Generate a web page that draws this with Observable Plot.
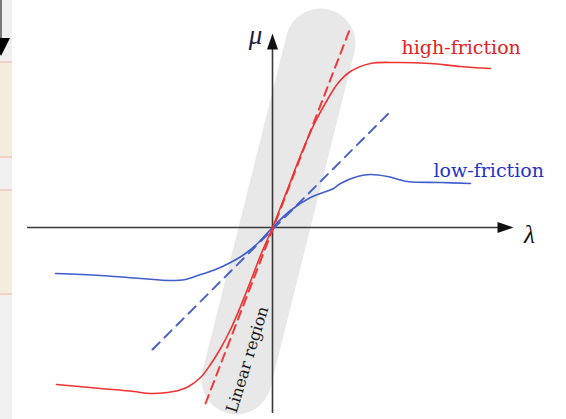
<!DOCTYPE html>
<html>
<head>
<meta charset="utf-8">
<script src="https://cdn.jsdelivr.net/npm/d3@7"></script>
<script src="https://cdn.jsdelivr.net/npm/@observablehq/plot@0.6"></script>
<style>
  html, body { margin: 0; padding: 0; background: #ffffff; }
  #wrap { position: relative; width: 566px; height: 419px; overflow: hidden; }
  #chart { position: absolute; left: 0; top: 0; }
  .strip { position: absolute; left: 0; top: 0; width: 12px; height: 419px; background: #f0f0f0; }
  .beige { position: absolute; left: 0; width: 12px; background: #f3eddc; border-top: 2px solid #f3cfc5; border-bottom: 2px solid #f3cfc5; }
  .vline { position: absolute; left: 0; top: 0; width: 2px; height: 38px; background: #7a7a7a; }
  .tri { position: absolute; left: -8px; top: 38px; width: 18px; height: 18px; background: #000; clip-path: polygon(0 0, 100% 0, 50% 100%); }
</style>
</head>
<body>
<div id="wrap">
  <div id="chart"></div>
  <div class="strip"></div>
  <div class="beige" style="top:61px;height:93px;"></div>
  <div class="beige" style="top:189px;height:102px;"></div>
  <div class="vline"></div>
  <div class="tri"></div>
</div>
<script>
// slip ratio (lambda) and friction coefficient (mu), arbitrary units
const highLambda = [-2.16, -1.72, -1.39, -1.22, -1.05, -0.94, -0.84, -0.72, -0.62, -0.52, -0.42, -0.32, -0.22, -0.12, 0, 0.13, 0.28, 0.41, 0.55, 0.66, 0.78, 0.98, 1.25, 1.58, 1.88, 2.18];
const highMu     = [-1.57, -1.61, -1.64, -1.66, -1.65, -1.63, -1.59, -1.50, -1.37, -1.21, -1.02, -0.79, -0.54, -0.28, 0, 0.33, 0.72, 1.02, 1.28, 1.45, 1.56, 1.64, 1.65, 1.64, 1.61, 1.59];

const lowLambda = [-2.17, -1.72, -1.32, -1.02, -0.87, -0.72, -0.57, -0.42, -0.27, -0.14, 0, 0.18, 0.38, 0.61, 0.68, 0.85, 0.98, 1.15, 1.35, 1.68, 1.98];
const lowMu     = [-0.46, -0.48, -0.51, -0.53, -0.52, -0.47, -0.42, -0.35, -0.26, -0.15, 0, 0.17, 0.30, 0.39, 0.44, 0.51, 0.53, 0.51, 0.46, 0.45, 0.44];

// linear approximations (dashed tangents)
const highTangentLambda = [-0.67, 0.78];
const highTangentMu     = [-1.76, 2.00];
const lowTangentLambda  = [-1.20, 1.16];
const lowTangentMu      = [-1.22, 1.14];

// linear region band (centre line end points)
const bandLambda = [-0.36, 0.48];
const bandMu     = [-1.52, 1.84];

// axes extents
const xAxisLambda = [-2.45, 2.30];
const yAxisMu     = [-1.86, 1.78];
const xArrowTip = {lambda: 2.41, mu: 0};
const yArrowTip = {lambda: 0, mu: 1.94};

// labels
const labels = [
  {text: "high-friction", lambda: 1.29, mu: 1.80, color: "#e52222", size: 19, anchor: "start", rotate: 0, style: "normal", font: "DejaVu Serif"},
  {text: "low-friction",  lambda: 1.61, mu: 0.57, color: "#2533cc", size: 19, anchor: "start", rotate: 0, style: "normal", font: "DejaVu Serif"},
  {text: "Linear region", lambda: -0.25, mu: -1.32, color: "#1a1a1a", size: 16, anchor: "middle", rotate: -73, style: "normal", font: "DejaVu Serif"},
  {text: "μ", lambda: -0.17, mu: 1.92, color: "#1b1b45", size: 27, anchor: "middle", rotate: 0, style: "italic", font: "Liberation Serif"},
  {text: "λ", lambda: 2.57, mu: -0.07, color: "#111111", size: 25, anchor: "middle", rotate: 0, style: "italic", font: "Liberation Serif"}
];

const zip = (xs, ys) => xs.map((x, i) => ({lambda: x, mu: ys[i]}));
const high = zip(highLambda, highMu);
const low = zip(lowLambda, lowMu);
const highTan = zip(highTangentLambda, highTangentMu);
const lowTan = zip(lowTangentLambda, lowTangentMu);
const band = zip(bandLambda, bandMu);

const arrowRight = {draw(ctx) { ctx.moveTo(0, 0); ctx.lineTo(-16, -5.5); ctx.lineTo(-16, 5.5); ctx.closePath(); }};
const arrowUp = {draw(ctx) { ctx.moveTo(0, 0); ctx.lineTo(-5.5, 16); ctx.lineTo(5.5, 16); ctx.closePath(); }};

const chart = Plot.plot({
  width: 566,
  height: 419,
  margin: 0,
  style: {background: "transparent"},
  x: {domain: [-2.72, 2.94], axis: null},
  y: {domain: [-1.92, 2.27], axis: null},
  marks: [
    Plot.line(band, {x: "lambda", y: "mu", stroke: "#e8e8e8", strokeWidth: 70, strokeLinecap: "round"}),
    Plot.ruleY([0], {x1: xAxisLambda[0], x2: xAxisLambda[1], stroke: "#3a3a3a", strokeWidth: 1.6}),
    Plot.ruleX([0], {y1: yAxisMu[0], y2: yAxisMu[1], stroke: "#3a3a3a", strokeWidth: 1.6}),
    Plot.dot([xArrowTip], {x: "lambda", y: "mu", symbol: arrowRight, r: 5, fill: "#111", stroke: "none"}),
    Plot.dot([yArrowTip], {x: "lambda", y: "mu", symbol: arrowUp, r: 5, fill: "#111", stroke: "none"}),
    Plot.line(lowTan, {x: "lambda", y: "mu", stroke: "#4a63c8", strokeWidth: 2, strokeDasharray: "10,7"}),
    Plot.line(highTan, {x: "lambda", y: "mu", stroke: "#ee3a3a", strokeWidth: 2, strokeDasharray: "9,6"}),
    Plot.line(low, {x: "lambda", y: "mu", stroke: "#3f5dcc", strokeWidth: 1.6, curve: "catmull-rom"}),
    Plot.line(high, {x: "lambda", y: "mu", stroke: "#ee3333", strokeWidth: 1.6, curve: "catmull-rom"}),
    ...labels.map(d => Plot.text([d], {
      x: "lambda", y: "mu", text: "text",
      fill: d.color, fontSize: d.size, fontFamily: d.font, fontStyle: d.style,
      textAnchor: d.anchor, rotate: d.rotate, lineAnchor: "middle"
    }))
  ]
});
document.getElementById("chart").appendChild(chart);
</script>
</body>
</html>
